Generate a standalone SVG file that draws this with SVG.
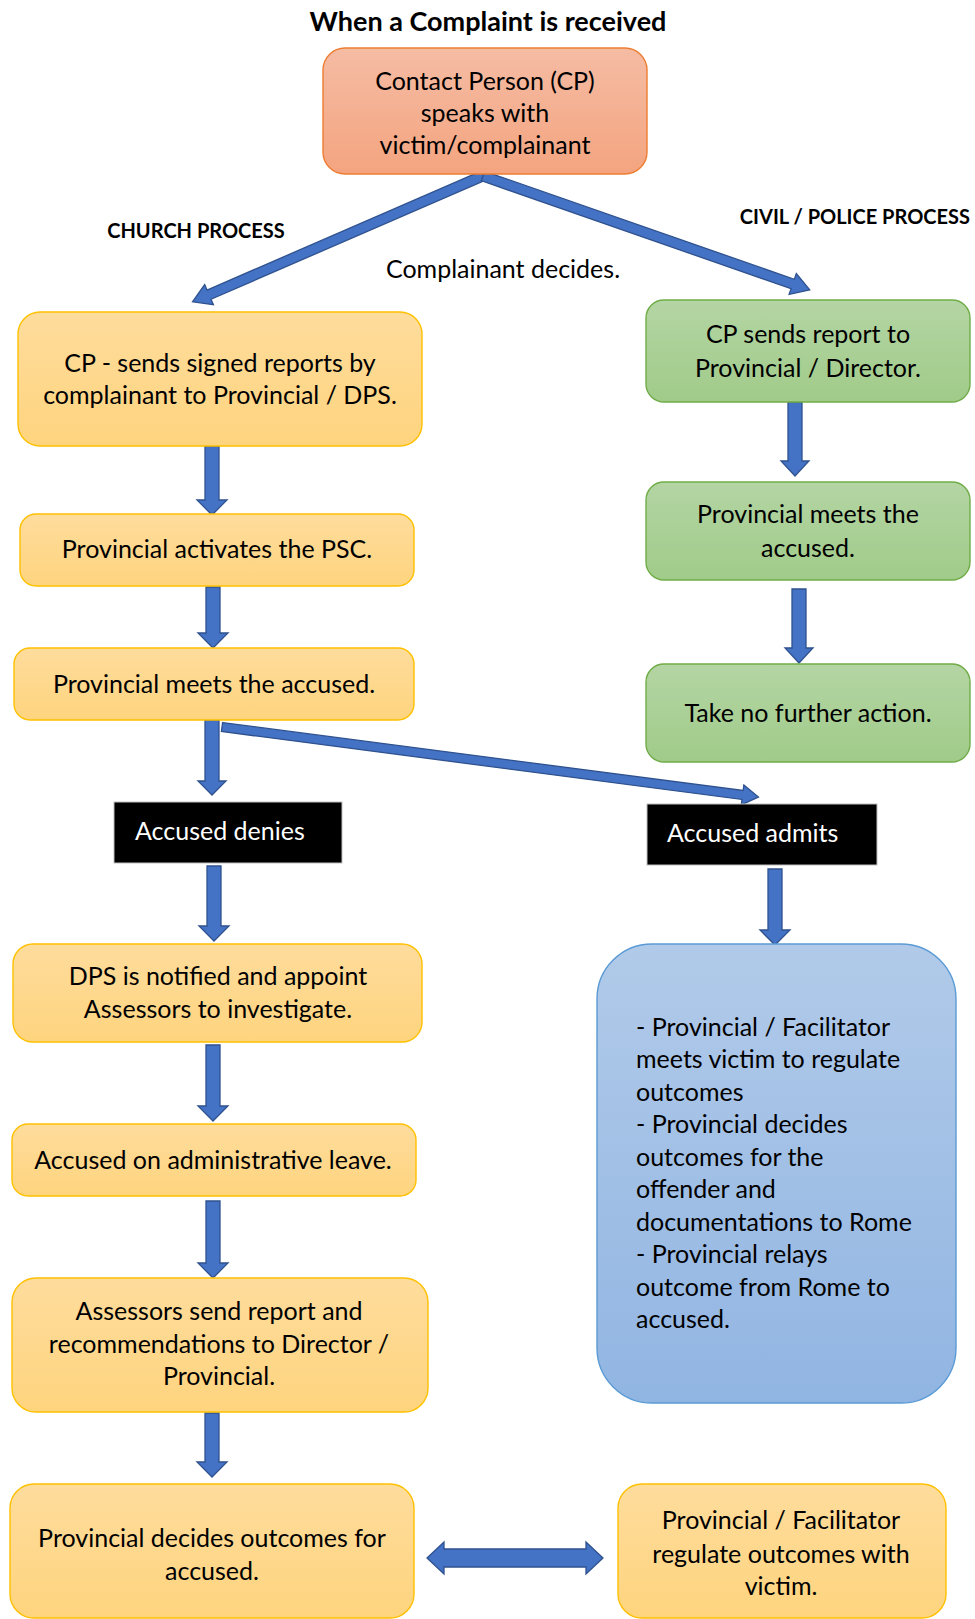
<svg xmlns="http://www.w3.org/2000/svg" width="975" height="1619" viewBox="0 0 975 1619">
<defs>
<linearGradient id="gY" x1="0" y1="0" x2="0" y2="1"><stop offset="0" stop-color="#FEDC9C"/><stop offset="1" stop-color="#FED47E"/></linearGradient>
<linearGradient id="gG" x1="0" y1="0" x2="0" y2="1"><stop offset="0" stop-color="#B4D5A4"/><stop offset="1" stop-color="#A0CB89"/></linearGradient>
<linearGradient id="gB" x1="0" y1="0" x2="0" y2="1"><stop offset="0" stop-color="#B1CAE9"/><stop offset="1" stop-color="#91B5E2"/></linearGradient>
<linearGradient id="gS" x1="0" y1="0" x2="0" y2="1"><stop offset="0" stop-color="#F5BCA4"/><stop offset="1" stop-color="#F4A47F"/></linearGradient>
<style>
.t{font-family:Lato,"Liberation Sans",sans-serif;font-size:25px;fill:#000;text-anchor:middle}
.tl{text-anchor:start}
.b{font-weight:bold}
.ttl{font-size:27px}
.hd{font-size:20px}
.te{text-anchor:end}
.w{fill:#fff}
.y{fill:url(#gY);stroke:#FFC000;stroke-width:1.4}
.g{fill:url(#gG);stroke:#70AD47;stroke-width:1.4}
.bl{fill:url(#gB);stroke:#5B9BD5;stroke-width:1.4}
.s{fill:url(#gS);stroke:#ED7D31;stroke-width:1.4}
.k{fill:#000;stroke:#BFBFBF;stroke-width:1}
.a{fill:#4472C4;stroke:#2F528F;stroke-width:1.3;stroke-linejoin:miter}
</style>
</defs>
<rect width="975" height="1619" fill="#fff"/>

<g id="labels">
<text class="t b ttl" x="488" y="31">When a Complaint is received</text>
<text class="t b hd" x="196" y="238">CHURCH PROCESS</text>
<text class="t b hd te" x="970" y="224">CIVIL / POLICE PROCESS</text>
<text class="t" x="503" y="278">Complainant decides.</text>
</g>

<g id="connectors">
<g transform="translate(487,174) rotate(156.54)"><polygon class="a" points="0,-5 303,-5 303,-11 321,0 303,11 303,5 0,5"/></g>
<g transform="translate(483,176) rotate(19.22)"><polygon class="a" points="0,-5 328,-5 328,-11 346,0 328,11 328,5 0,5"/></g>
<g transform="translate(222,727) rotate(7.44)"><polygon class="a" points="0,-4.5 525,-4.5 525,-10 541,0 525,10 525,4.5 0,4.5"/></g>
<polygon class="a" points="205,446 219,446 219,500 227,500 212,515 197,500 205,500"/>
<polygon class="a" points="206,587 220,587 220,633 228,633 213,648 198,633 206,633"/>
<polygon class="a" points="205,720 219,720 219,781 226,781 212,795 198,781 205,781"/>
<polygon class="a" points="207,866 221,866 221,926 229,926 214,941 199,926 207,926"/>
<polygon class="a" points="206,1045 220,1045 220,1106 228,1106 213,1121 198,1106 206,1106"/>
<polygon class="a" points="206,1201 220,1201 220,1263 228,1263 213,1278 198,1263 206,1263"/>
<polygon class="a" points="205,1413 219,1413 219,1462 227,1462 212,1477 197,1462 205,1462"/>
<polygon class="a" points="788,402 802,402 802,461 809,461 795,476 781,461 788,461"/>
<polygon class="a" points="792,589 806,589 806,648 813,648 799,663 785,648 792,648"/>
<polygon class="a" points="768,869 782,869 782,930 790,930 775,945 760,930 768,930"/>
<polygon class="a" points="427,1558 444,1542 444,1549 586,1549 586,1542 603,1558 586,1574 586,1567 444,1567 444,1574"/>
</g>

<g id="n-contact">
<rect class="s" x="323" y="48" width="324" height="126" rx="22"/>
<text class="t" x="485" y="90">Contact Person (CP)</text>
<text class="t" x="485" y="122">speaks with</text>
<text class="t" x="485" y="154">victim/complainant</text>
</g>

<g id="n-cp-sends">
<rect class="y" x="18" y="312" width="404" height="134" rx="22"/>
<text class="t" x="220" y="372">CP - sends signed reports by</text>
<text class="t" x="220" y="404">complainant to Provincial / DPS.</text>
</g>

<g id="n-activates">
<rect class="y" x="20" y="514" width="394" height="72" rx="16"/>
<text class="t" x="217" y="558">Provincial activates the PSC.</text>
</g>

<g id="n-meets">
<rect class="y" x="14" y="648" width="400" height="72" rx="16"/>
<text class="t" x="214" y="693">Provincial meets the accused.</text>
</g>

<g id="n-denies">
<rect class="k" x="114" y="802" width="228" height="61"/>
<text class="t w tl" x="135" y="840">Accused denies</text>
</g>

<g id="n-admits">
<rect class="k" x="647" y="804" width="230" height="61"/>
<text class="t w tl" x="667" y="842">Accused admits</text>
</g>

<g id="n-dps">
<rect class="y" x="13" y="944" width="409" height="98" rx="20"/>
<text class="t" x="218" y="985">DPS is notified and appoint</text>
<text class="t" x="218" y="1018">Assessors to investigate.</text>
</g>

<g id="n-leave">
<rect class="y" x="12" y="1124" width="404" height="72" rx="16"/>
<text class="t" x="213" y="1169">Accused on administrative leave.</text>
</g>

<g id="n-assessors">
<rect class="y" x="12" y="1278" width="416" height="134" rx="24"/>
<text class="t" x="219" y="1320">Assessors send report and</text>
<text class="t" x="219" y="1353">recommendations to Director /</text>
<text class="t" x="219" y="1385">Provincial.</text>
</g>

<g id="n-decides">
<rect class="y" x="10" y="1484" width="404" height="134" rx="24"/>
<text class="t" x="212" y="1547">Provincial decides outcomes for</text>
<text class="t" x="212" y="1580">accused.</text>
</g>

<g id="n-regulate">
<rect class="y" x="618" y="1484" width="328" height="134" rx="24"/>
<text class="t" x="781" y="1529">Provincial / Facilitator</text>
<text class="t" x="781" y="1563">regulate outcomes with</text>
<text class="t" x="781" y="1595">victim.</text>
</g>

<g id="n-green1">
<rect class="g" x="646" y="300" width="324" height="102" rx="18"/>
<text class="t" x="808" y="343">CP sends report to</text>
<text class="t" x="808" y="377">Provincial / Director.</text>
</g>

<g id="n-green2">
<rect class="g" x="646" y="482" width="324" height="98" rx="18"/>
<text class="t" x="808" y="523">Provincial meets the</text>
<text class="t" x="808" y="557">accused.</text>
</g>

<g id="n-green3">
<rect class="g" x="646" y="664" width="324" height="98" rx="18"/>
<text class="t" x="808" y="722">Take no further action.</text>
</g>

<g id="n-admit-outcomes">
<rect class="bl" x="597" y="944" width="359" height="459" rx="55"/>
<text class="t tl" x="636" y="1036">- Provincial / Facilitator</text>
<text class="t tl" x="636" y="1068">meets victim to regulate</text>
<text class="t tl" x="636" y="1101">outcomes</text>
<text class="t tl" x="636" y="1133">- Provincial decides</text>
<text class="t tl" x="636" y="1166">outcomes for the</text>
<text class="t tl" x="636" y="1198">offender and</text>
<text class="t tl" x="636" y="1231">documentations to Rome</text>
<text class="t tl" x="636" y="1263">- Provincial relays</text>
<text class="t tl" x="636" y="1296">outcome from Rome to</text>
<text class="t tl" x="636" y="1328">accused.</text>
</g>
</svg>
